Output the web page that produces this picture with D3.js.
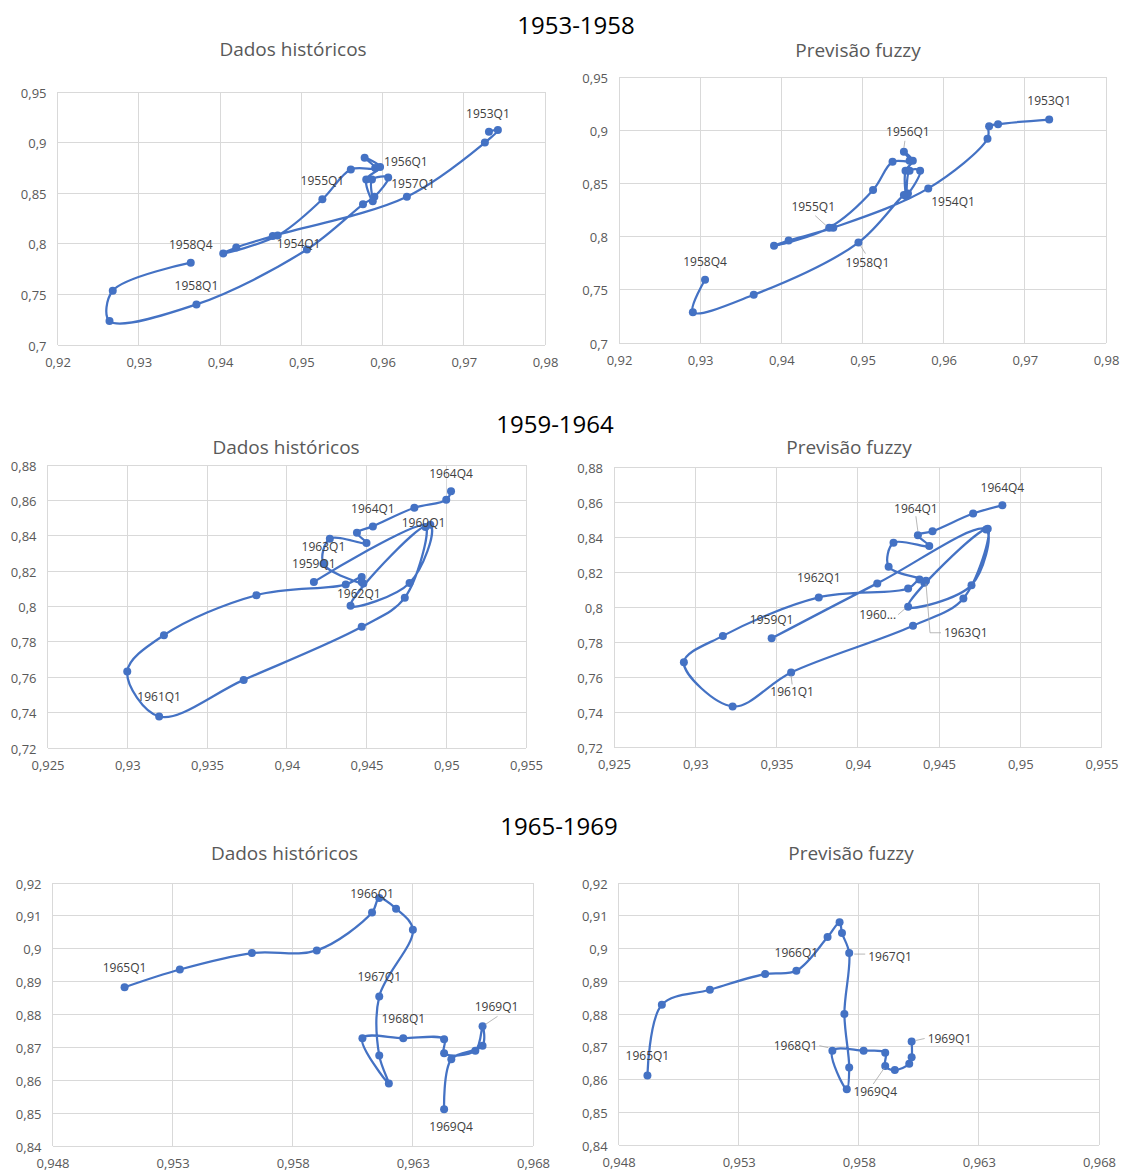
<!DOCTYPE html>
<html><head><meta charset="utf-8">
<script src="https://cdn.jsdelivr.net/npm/d3@7"></script>
<style>body{margin:0;background:#fff;} svg text{font-family:"Open Sans","Noto Sans",sans-serif;}</style>
</head><body><svg id="c" width="1134" height="1173"></svg>
<script>
// ---------- DATA ----------
const groupTitles = ["1953-1958", "1959-1964", "1965-1969"];
const panelTitles = ["Dados históricos", "Previsão fuzzy"];

const xTicksA = [0.92, 0.93, 0.94, 0.95, 0.96, 0.97, 0.98];
const yTicksA = [0.7, 0.75, 0.8, 0.85, 0.9, 0.95];
const xTicksB = [0.925, 0.93, 0.935, 0.94, 0.945, 0.95, 0.955];
const yTicksB = [0.72, 0.74, 0.76, 0.78, 0.8, 0.82, 0.84, 0.86, 0.88];
const xTicksC = [0.948, 0.953, 0.958, 0.963, 0.968];
const yTicksC = [0.84, 0.85, 0.86, 0.87, 0.88, 0.89, 0.9, 0.91, 0.92];

// 1953-1958 historical
const histX5358 = [0.9731,0.9742,0.9726,0.9630, 0.9465,0.9420,0.9404,0.9471, 0.9526,0.9561,0.9591,0.9578,
                   0.9597,0.9580,0.9588,0.9587, 0.9607,0.9590,0.9576,0.9507, 0.9371,0.9264,0.9268,0.9364];
const histY5358 = [0.9108,0.9124,0.9000,0.8466, 0.8076,0.7964,0.7905,0.8082, 0.8440,0.8734,0.8748,0.8850,
                   0.8758,0.8635,0.8420,0.8635, 0.8655,0.8464,0.8390,0.7944, 0.7401,0.7237,0.7536,0.7813];
const histLbl5358 = [[0,"1953Q1"],[4,"1954Q1"],[8,"1955Q1"],[12,"1956Q1"],[16,"1957Q1"],[20,"1958Q1"],[23,"1958Q4"]];

// 1953-1958 fuzzy
const fuzX5358 = [0.9730,0.9667,0.9656,0.9654, 0.9581,0.9464,0.9409,0.9391, 0.9459,0.9513,0.9537,0.9558,
                  0.9551,0.9562,0.9553,0.9554, 0.9558,0.9571,0.9556,0.9551, 0.9495,0.9366,0.9291,0.9306];
const fuzY5358 = [0.9100,0.9056,0.9036,0.8920, 0.8453,0.8084,0.7963,0.7913, 0.8084,0.8438,0.8703,0.8713,
                  0.8797,0.8713,0.8619,0.8380, 0.8619,0.8619,0.8406,0.8391, 0.7944,0.7453,0.7290,0.7594];
const fuzLbl5358 = [[0,"1953Q1"],[4,"1954Q1"],[8,"1955Q1"],[12,"1956Q1"],[20,"1958Q1"],[23,"1958Q4"]];

// 1959-1964 historical
const histX5964 = [0.9417,0.9490,0.9477,0.9440, 0.9487,0.9474,0.9447,0.9373, 0.9320,0.9300,0.9323,0.9381,
                   0.9437,0.9447,0.9447,0.9448, 0.9423,0.9427,0.9450,0.9444, 0.9454,0.9480,0.9500,0.9503];
const histY5964 = [0.8139,0.8462,0.8133,0.8004, 0.8450,0.8050,0.7885,0.7585, 0.7378,0.7632,0.7838,0.8064,
                   0.8124,0.8167,0.8139,0.8130, 0.8242,0.8383,0.8359,0.8417, 0.8453,0.8558,0.8603,0.8652];
const histLbl5964 = [[0,"1959Q1"],[4,"1960Q1"],[8,"1961Q1"],[12,"1962Q1"],[16,"1963Q1"],[20,"1964Q1"],[23,"1964Q4"]];

// 1959-1964 fuzzy
const fuzX5964 = [0.9347,0.9412,0.9479,0.9470, 0.9431,0.9480,0.9465,0.9434, 0.9359,0.9323,0.9293,0.9317,
                  0.9376,0.9431,0.9438,0.9441, 0.9442,0.9419,0.9422,0.9444, 0.9437,0.9446,0.9471,0.9489];
const fuzY5964 = [0.7821,0.8135,0.8443,0.8125, 0.8002,0.8447,0.8049,0.7893, 0.7626,0.7432,0.7684,0.7835,
                  0.8055,0.8106,0.8157,0.8139, 0.8150,0.8230,0.8367,0.8348, 0.8410,0.8433,0.8534,0.8581];
const fuzLbl5964 = [[0,"1959Q1"],[4,"1960..."],[8,"1961Q1"],[12,"1962Q1"],[16,"1963Q1"],[20,"1964Q1"],[23,"1964Q4"]];

// 1965-1969 historical
const histX6569 = [0.9510,0.9533,0.9563,0.9590, 0.9613,0.9616,0.9623,0.9630, 0.9616,0.9616,0.9620,0.9609,
                   0.9626,0.9643,0.9643,0.9656, 0.9659,0.9659,0.9646,0.9643];
const histY6569 = [0.8883,0.8937,0.8987,0.8995, 0.9110,0.9154,0.9122,0.9058, 0.8855,0.8675,0.8590,0.8728,
                   0.8728,0.8725,0.8682,0.8690, 0.8764,0.8705,0.8664,0.8512];
const histLbl6569 = [[0,"1965Q1"],[4,"1966Q1"],[8,"1967Q1"],[12,"1968Q1"],[16,"1969Q1"],[19,"1969Q4"]];

// 1965-1969 fuzzy
const fuzX6569 = [0.9492,0.9498,0.9518,0.9541, 0.9554,0.9567,0.9572,0.9573, 0.9576,0.9574,0.9576,0.9575,
                  0.9569,0.9582,0.9591,0.9591, 0.9595,0.9601,0.9602,0.9602];
const fuzY6569 = [0.8612,0.8828,0.8874,0.8922, 0.8932,0.9035,0.9080,0.9047, 0.8986,0.8800,0.8637,0.8570,
                  0.8688,0.8688,0.8682,0.8641, 0.8629,0.8648,0.8668,0.8716];
const fuzLbl6569 = [[0,"1965Q1"],[4,"1966Q1"],[8,"1967Q1"],[12,"1968Q1"],[19,"1969Q1"],[15,"1969Q4"]];

// ---------- LAYOUT ----------
const groupTitlePos = [[576, 24], [555, 423], [559, 825]];
const panels = [
  {title:0, tx:293, ty:49, xs:histX5358, ys:histY5358, lbl:histLbl5358, xt:xTicksA, yt:yTicksA, px:[57.5,545], py:[345,92],
   off:{"1953Q1":[-1,-18,"middle"],"1954Q1":[4,7,"start"],"1955Q1":[0,-19,"middle"],"1956Q1":[4,-6,"start"],
        "1957Q1":[3,6,"start"],"1958Q1":[0,-19,"middle"],"1958Q4":[0,-18,"middle"]}},
  {title:1, tx:858, ty:50, xs:fuzX5358, ys:fuzY5358, lbl:fuzLbl5358, xt:xTicksA, yt:yTicksA, px:[619,1106], py:[343,77],
   off:{"1953Q1":[0,-19,"middle"],"1954Q1":[3,13,"start"],"1955Q1":[-16,-21,"middle",[[-14,-12],[-3,-2]]],
        "1956Q1":[4,-20,"middle",[[1,-11],[0,-4]]],"1958Q1":[9,20,"middle",[[2,3],[7,11]]],"1958Q4":[0,-18,"middle"]}},
  {title:0, tx:286, ty:447, xs:histX5964, ys:histY5964, lbl:histLbl5964, xt:xTicksB, yt:yTicksB, px:[47.5,526], py:[748,465],
   off:{"1959Q1":[0,-18,"middle"],"1960Q1":[-2,-4,"middle"],"1961Q1":[0,-20,"middle"],"1962Q1":[13,9,"middle"],
        "1963Q1":[0,-17,"middle"],"1964Q1":[0,-18,"middle"],"1964Q4":[0,-18,"middle"]}},
  {title:1, tx:849, ty:447, xs:fuzX5964, ys:fuzY5964, lbl:fuzLbl5964, xt:xTicksB, yt:yTicksB, px:[614,1101.5], py:[747,467],
   off:{"1959Q1":[0,-19,"middle"],"1960...":[-12,8,"end",[[-10,8],[-3,2]]],"1961Q1":[1,19,"middle",[[0,3],[1,12]]],
        "1962Q1":[0,-20,"middle"],"1963Q1":[18,52,"start",[[0,3],[4,52],[15,52]]],
        "1964Q1":[-2,-27,"middle",[[-2,-19],[0,-4]]],"1964Q4":[0,-18,"middle"]}},
  {title:0, tx:284.5, ty:853, xs:histX6569, ys:histY6569, lbl:histLbl6569, xt:xTicksC, yt:yTicksC, px:[52.5,533], py:[1146,883],
   off:{"1965Q1":[0,-20,"middle"],"1966Q1":[0,-19,"middle"],"1967Q1":[0,-20,"middle"],"1968Q1":[0,-20,"middle"],
        "1969Q1":[14,-20,"middle",[[3,-2],[15,-10]]],"1969Q4":[7,17,"middle"]}},
  {title:1, tx:851, ty:853, xs:fuzX6569, ys:fuzY6569, lbl:fuzLbl6569, xt:xTicksC, yt:yTicksC, px:[618.6,1099], py:[1145,883],
   off:{"1965Q1":[0,-20,"middle"],"1966Q1":[0,-18,"middle"],"1967Q1":[19,3,"start",[[5,1],[16,1]]],
        "1968Q1":[-15,-5,"end",[[-13,-5],[-4,-3]]],"1969Q1":[16,-3,"start",[[4,-1],[13,-3]]],
        "1969Q4":[-10,25,"middle",[[-12,18],[-1,2]]]}}
];

const BLUE = "#4472C4", GRID = "#D9D9D9", AXTXT = "#595959", LBLTXT = "#404040";
const loc = d3.formatLocale({decimal:",", thousands:".", grouping:[3], currency:["","€"]});
const fmt = loc.format("~g");

const svg = d3.select("#c");
svg.append("rect").attr("width",1134).attr("height",1173).attr("fill","#fff");

groupTitles.forEach((t,i) => {
  svg.append("text").attr("x",groupTitlePos[i][0]).attr("y",groupTitlePos[i][1])
    .attr("text-anchor","middle").attr("dominant-baseline","central")
    .attr("font-size",24).attr("fill","#000").text(t);
});

panels.forEach(p => {
  const x = d3.scaleLinear().domain([p.xt[0], p.xt[p.xt.length-1]]).range(p.px);
  const y = d3.scaleLinear().domain([p.yt[0], p.yt[p.yt.length-1]]).range(p.py);
  const g = svg.append("g");

  g.append("text").attr("x",p.tx).attr("y",p.ty).attr("text-anchor","middle").attr("dominant-baseline","central")
    .attr("font-size",19).attr("fill",AXTXT).text(panelTitles[p.title]);

  // grid
  g.selectAll(".vg").data(p.xt).join("line")
    .attr("x1",d=>x(d)).attr("x2",d=>x(d)).attr("y1",p.py[0]).attr("y2",p.py[1])
    .attr("stroke",GRID).attr("stroke-width",1).attr("shape-rendering","crispEdges");
  g.selectAll(".hg").data(p.yt).join("line")
    .attr("y1",d=>y(d)).attr("y2",d=>y(d)).attr("x1",p.px[0]).attr("x2",p.px[1])
    .attr("stroke",GRID).attr("stroke-width",1).attr("shape-rendering","crispEdges");

  // axes via d3 axis (labels only)
  const ax = g.append("g").attr("transform",`translate(0,${p.py[0]})`)
    .call(d3.axisBottom(x).tickValues(p.xt).tickFormat(fmt).tickSize(0).tickPadding(17));
  const ay = g.append("g").attr("transform",`translate(${p.px[0]},0)`)
    .call(d3.axisLeft(y).tickValues(p.yt).tickFormat(fmt).tickSize(0).tickPadding(11));
  [ax, ay].forEach(a => {
    a.select(".domain").remove();
    a.selectAll("text").attr("font-size",13).attr("fill",AXTXT).attr("font-family",'"Open Sans",sans-serif');
  });
  ax.selectAll("text").attr("dy",null).attr("y",17).attr("dominant-baseline","central");
  ay.selectAll("text").attr("dy",null).attr("dominant-baseline","central");

  const pts = p.xs.map((v,i) => [v, p.ys[i]]);
  const line = d3.line().x(d=>x(d[0])).y(d=>y(d[1])).curve(d3.curveCatmullRom.alpha(0.5));
  g.append("path").attr("d",line(pts)).attr("fill","none").attr("stroke",BLUE)
    .attr("stroke-width",2.25).attr("stroke-linejoin","round");
  g.selectAll(".pt").data(pts).join("circle")
    .attr("cx",d=>x(d[0])).attr("cy",d=>y(d[1])).attr("r",4).attr("fill",BLUE);

  p.lbl.forEach(([i,t]) => {
    const o = p.off[t]; if (!o) return;
    const cx = x(p.xs[i]), cy = y(p.ys[i]);
    if (o[3]) {
      g.append("polyline").attr("points", o[3].map(q => [cx+q[0], cy+q[1]].join(",")).join(" "))
        .attr("fill","none").attr("stroke","#A6A6A6").attr("stroke-width",0.8);
    }
    g.append("text").attr("x",cx+o[0]).attr("y",cy+o[1]).attr("text-anchor",o[2])
      .attr("dominant-baseline","central").attr("font-size",12).attr("fill",LBLTXT).text(t);
  });
});
</script></body></html>
